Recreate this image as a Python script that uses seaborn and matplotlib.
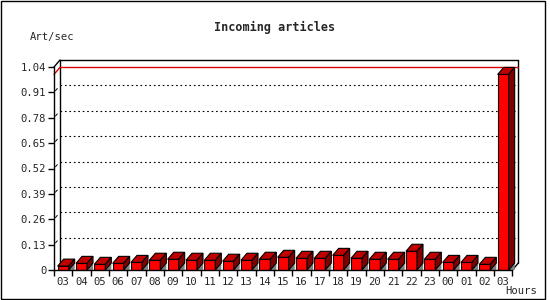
import numpy as np
import pandas as pd
import matplotlib.pyplot as plt
from matplotlib.patches import Polygon, Rectangle
import seaborn as sns

# --- Data ---
hours = ['03', '04', '05', '06', '07', '08', '09', '10', '11', '12', '13', '14',
         '15', '16', '17', '18', '19', '20', '21', '22', '23', '00', '01', '02', '03']
rates = [0.020, 0.034, 0.029, 0.034, 0.039, 0.050, 0.055, 0.050, 0.050, 0.045, 0.050, 0.055,
         0.065, 0.060, 0.060, 0.075, 0.060, 0.055, 0.055, 0.096, 0.055, 0.039, 0.039, 0.029, 1.002]
y_ticks = [0, 0.13, 0.26, 0.39, 0.52, 0.65, 0.78, 0.91, 1.04]
y_labels = ['0', '0.13', '0.26', '0.39', '0.52', '0.65', '0.78', '0.91', '1.04']

# --- Style ---
sns.set_style('ticks')
plt.rcParams['font.family'] = ['DejaVu Sans Mono']

df = pd.DataFrame({'slot': range(len(hours)), 'rate': rates})

W, H = 550, 300
ax_left, ax_bottom, ax_w, ax_h = 54, 30, 458.33, 203
fig = plt.figure(figsize=(W / 100, H / 100), dpi=100)
fig.patch.set_facecolor('white')
ax = fig.add_axes([ax_left / W, ax_bottom / H, ax_w / W, ax_h / H])
ax.set_facecolor('none')

sns.barplot(data=df, x='slot', y='rate', color='#ff0000', saturation=1, width=0.6,
            edgecolor='black', linewidth=0.8, errorbar=None, ax=ax, zorder=4)

ymax = y_ticks[-1]
n = len(hours)
ax.set_xlim(-0.5, n - 0.5)
ax.set_ylim(0, ymax)

# 3D offset in data units (about 6 px right, 7 px up)
dx = 6 / (ax_w / n)
dy = 7 * ymax / ax_h

# Top, side and floor shadow for each bar
for p in list(ax.patches):
    x0 = p.get_x()
    x1 = x0 + p.get_width()
    h = p.get_height()
    shadow = Polygon([(x1, 0), (x1 + dx, dy), (x1 + dx, 0)], closed=True,
                     facecolor='#808080', edgecolor='none', zorder=3, clip_on=False)
    top = Polygon([(x0, h), (x1, h), (x1 + dx, h + dy), (x0 + dx, h + dy)], closed=True,
                  facecolor='#c00000', edgecolor='black', linewidth=0.8, zorder=4, clip_on=False)
    side = Polygon([(x1, 0), (x1, h), (x1 + dx, h + dy), (x1 + dx, dy)], closed=True,
                   facecolor='#800000', edgecolor='black', linewidth=0.8, zorder=4, clip_on=False)
    ax.add_patch(shadow)
    ax.add_patch(top)
    ax.add_patch(side)

# Back plane with dotted grid
bx0, bx1 = -0.5 + dx, n - 0.5 + dx
for v in y_ticks[1:-1]:
    ax.plot([bx0, bx1], [v + dy, v + dy], color='black', lw=0.8,
            linestyle=(0, (1.5, 2.5)), zorder=1, clip_on=False)
    ax.plot([-0.5 + 0.25 * dx, -0.5 + 0.55 * dx], [v + 0.25 * dy, v + 0.55 * dy],
            color='black', lw=0.7, zorder=1, clip_on=False)

kw = dict(color='black', lw=1, zorder=2, clip_on=False)
ax.plot([bx0, bx1], [ymax + dy, ymax + dy], **kw)
ax.plot([bx0, bx0], [dy, ymax + dy], **kw)
ax.plot([bx1, bx1], [dy, ymax + dy], **kw)
ax.plot([-0.5, bx0], [ymax, ymax + dy], **kw)
ax.plot([n - 0.5, bx1], [0, dy], **kw)

# Maximum line
vmax = max(rates)
ax.plot([bx0, bx1], [vmax + dy, vmax + dy], color='#e00000', lw=1, zorder=2, clip_on=False)
ax.plot([-0.5, bx0], [vmax, vmax + dy], color='#e00000', lw=1, zorder=2, clip_on=False)

# Axes and ticks
for s in ['top', 'right']:
    ax.spines[s].set_visible(False)
for s in ['left', 'bottom']:
    ax.spines[s].set_color('black')
    ax.spines[s].set_linewidth(1)
    ax.spines[s].set_zorder(5)

ax.set_yticks(y_ticks)
ax.set_yticklabels(y_labels)
ax.set_xticks(range(n))
ax.set_xticklabels(hours)
ax.set_xticks(np.arange(-0.5, n, 1), minor=True)
ax.tick_params(axis='x', which='major', length=0, pad=5, labelsize=7.6)
ax.tick_params(axis='x', which='minor', length=4, width=1, color='black')
ax.tick_params(axis='y', length=4, width=1, color='black', pad=1.5, labelsize=7.6)
ax.set_xlabel('')
ax.set_ylabel('')

# Labels
fig.text(275 / W, 1 - 27 / H, 'Incoming articles', ha='center', va='center',
         fontsize=8.5, fontweight='bold')
fig.text(30 / W, 1 - 37 / H, 'Art/sec', ha='left', va='center', fontsize=7.6)
fig.text(505 / W, 1 - 291 / H, 'Hours', ha='left', va='center', fontsize=7.6)

# Outer frame
fig.add_artist(Rectangle((0.5 / W, 1.5 / H), 544 / W, 298 / H, transform=fig.transFigure,
                         fill=False, edgecolor='black', linewidth=1))

fig.savefig('out.png', dpi=100)
